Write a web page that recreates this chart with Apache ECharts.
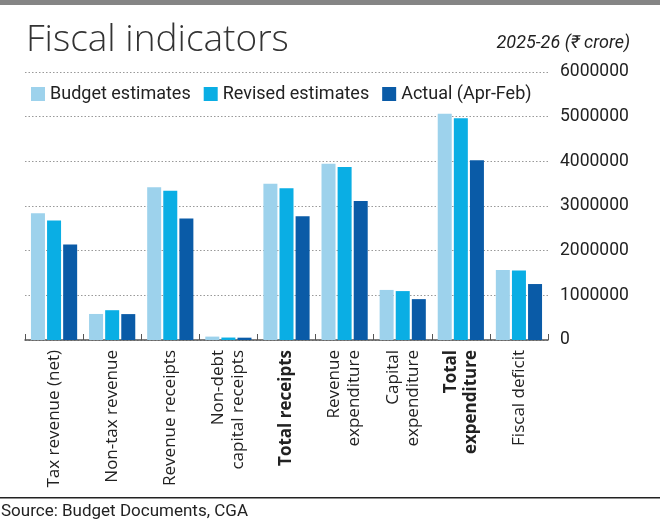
<!DOCTYPE html>
<html>
<head>
<meta charset="utf-8">
<script src="https://cdn.jsdelivr.net/npm/echarts@6/dist/echarts.min.js"></script>
<style>
html,body{margin:0;padding:0;background:#fff;}
#c{width:660px;height:524px;}
</style>
</head>
<body>
<div id="c"></div>
<script>
const categories = [
  'Tax revenue (net)',
  'Non-tax revenue',
  'Revenue receipts',
  'Non-debt\ncapital receipts',
  'Total receipts',
  'Revenue\nexpenditure',
  'Capital\nexpenditure',
  'Total\nexpenditure',
  'Fiscal deficit'
];
const boldCategories = ['Total receipts', 'Total\nexpenditure'];
const budgetEstimates = [2837409, 583000, 3420409, 76000, 3496409, 3944255, 1121090, 5065345, 1568936];
const revisedEstimates = [2674000, 667000, 3341000, 55000, 3396000, 3872000, 1095000, 4967000, 1555000];
const actualAprFeb = [2140000, 580000, 2720000, 52000, 2772000, 3110000, 915000, 4025000, 1253000];
const seriesNames = ['Budget estimates', 'Revised estimates', 'Actual (Apr-Feb)'];
const seriesColors = ['#9dd2ec', '#0aaee4', '#0a5ba7'];
const yTicks = [0, 1000000, 2000000, 3000000, 4000000, 5000000, 6000000];

const narrow = 'Roboto, "Open Sans", sans-serif';
const chart = echarts.init(document.getElementById('c'), null, {renderer: 'canvas'});

const seriesData = [budgetEstimates, revisedEstimates, actualAprFeb];

chart.setOption({
  animation: false,
  backgroundColor: '#fff',
  color: seriesColors,
  graphic: [
    {type: 'rect', left: 0, top: 0, shape: {width: 660, height: 5}, style: {fill: '#858585'}},
    {type: 'text', left: 26, top: 22, style: {text: 'Fiscal indicators', font: '300 37px "Open Sans", sans-serif', fill: '#333'}},
    {type: 'text', right: 30, top: 34, style: {text: '2025-26 (₹ crore)', font: 'italic 18px ' + narrow, fill: '#222'}},
    {type: 'rect', left: 0, top: 497, shape: {width: 660, height: 1.5}, style: {fill: '#222'}},
    {type: 'text', left: 1, top: 503, style: {text: 'Source: Budget Documents, CGA', font: '17px ' + narrow, fill: '#222'}}
  ],
  legend: {
    left: 26, top: 80,
    itemWidth: 14, itemHeight: 14, itemGap: 13,
    icon: 'rect',
    textStyle: {fontFamily: narrow, fontSize: 18, color: '#222', padding: [0, 0, 0, 0]},
    data: seriesNames
  },
  grid: {left: 25, right: 112, top: 72, bottom: 184, containLabel: false},
  xAxis: {
    type: 'category',
    data: categories,
    axisLine: {lineStyle: {color: '#555', width: 1.5}},
    axisTick: {show: true, inside: true, length: 6, lineStyle: {color: '#555'}},
    axisLabel: {
      rotate: 90, interval: 0, margin: 10,
      fontFamily: '"Open Sans", "Noto Sans", sans-serif', fontSize: 17, color: '#222', lineHeight: 20,
      formatter: v => boldCategories.includes(v) ? '{b|' + v.split('\n').join('}\n{b|') + '}' : v,
      rich: {b: {fontWeight: 'bold', fontFamily: '"Open Sans", "Noto Sans", sans-serif', fontSize: 17, color: '#222', lineHeight: 20}}
    }
  },
  yAxis: {
    type: 'value', position: 'right',
    min: 0, max: 6000000, interval: 1000000,
    axisLine: {show: false}, axisTick: {show: false},
    axisLabel: {margin: 12, fontFamily: narrow, fontSize: 17.5, color: '#222',
      formatter: v => yTicks.includes(v) ? String(v) : ''},
    splitLine: {lineStyle: {color: '#999', type: [1.5, 2], width: 1}}
  },
  series: seriesNames.map((n, i) => ({
    name: n, type: 'bar', data: seriesData[i],
    barWidth: 14, barGap: '15%',
    itemStyle: {color: seriesColors[i]}
  }))
});
</script>
</body>
</html>
